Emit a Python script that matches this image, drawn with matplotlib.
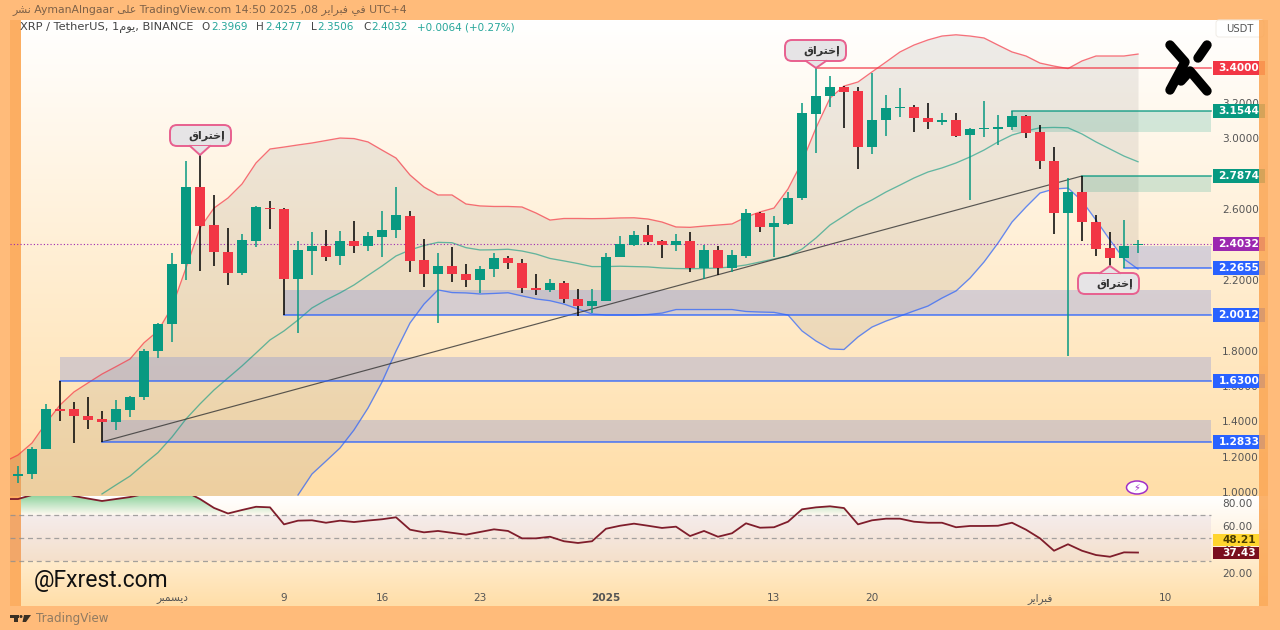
#!/usr/bin/env python3

"""XRP / TetherUS daily chart with Bollinger bands, zones and an RSI pane."""

import numpy as np
import matplotlib

matplotlib.use("Agg")
import matplotlib.pyplot as plt
from matplotlib.colors import LinearSegmentedColormap
from matplotlib.patches import Ellipse, FancyBboxPatch, Polygon, Rectangle
from matplotlib.path import Path

W, H = 1280, 630
FRAME = "#ffbb7a"
STRIP = "#fcae62"
TEAL = "#089981"
RED = "#f23645"
BLUE = "#2962ff"
PURPLE = "#9c27b0"

# Arabic is stored as presentation forms in visual order, matplotlib has no shaping
AR_BREAKOUT = "\ufed5\ufe8d\ufeae\ufe98\ufea7\ufe87"
AR_DAY = "\ufee1\ufeee\ufef3"
AR_DEC = "\ufeae\ufe92\ufee4\ufeb4\ufef3\ufea9"
AR_FEB = "\ufeae\ufef3\ufe8d\ufeae\ufe92\ufed3"
AR_IN = "\ufef2\ufed3"
AR_ON = "\ufef0\ufee0\ufecb"
AR_PUBLISHED = "\ufeae\ufeb8\ufee7"

# days counted from 9 December, first candle is 20 November
FIRST_DAY = -19
opens = [
    1.09, 1.100, 1.243, 1.469, 1.468, 1.43, 1.411, 1.396, 1.464, 1.536, 1.796, 1.949,
    2.29, 2.723, 2.508, 2.36, 2.24, 2.421, 2.608, 2.60, 2.206, 2.365, 2.393, 2.336,
    2.42, 2.393, 2.442, 2.48, 2.563, 2.31, 2.235, 2.278, 2.233, 2.199, 2.26, 2.322,
    2.293, 2.154, 2.142, 2.182, 2.093, 2.054, 2.08, 2.327, 2.397, 2.454, 2.42, 2.395,
    2.42, 2.265, 2.37, 2.269, 2.335, 2.576, 2.499, 2.516, 2.661, 3.14, 3.238, 3.29,
    3.266, 2.953, 3.102, 3.17, 3.178, 3.115, 3.094, 3.104, 3.018, 3.055, 3.055, 3.065,
    3.127, 3.035, 2.874, 2.576, 2.697, 2.525, 2.378, 2.322, 2.3969,
]
highs = [
    1.149, 1.256, 1.498, 1.628, 1.511, 1.539, 1.458, 1.52, 1.545, 1.81, 1.954, 2.35,
    2.87, 2.906, 2.678, 2.493, 2.461, 2.618, 2.646, 2.605, 2.42, 2.469, 2.484, 2.476,
    2.533, 2.469, 2.588, 2.727, 2.59, 2.429, 2.354, 2.384, 2.29, 2.278, 2.35, 2.333,
    2.316, 2.233, 2.205, 2.193, 2.15, 2.146, 2.354, 2.448, 2.478, 2.51, 2.425, 2.457,
    2.469, 2.397, 2.393, 2.369, 2.60, 2.585, 2.561, 2.695, 3.199, 3.40, 3.352, 3.296,
    3.289, 3.368, 3.245, 3.283, 3.19, 3.202, 3.142, 3.142, 3.056, 3.21, 3.134, 3.1544,
    3.132, 3.073, 2.953, 2.778, 2.7874, 2.567, 2.469, 2.538, 2.4277,
]
lows = [
    1.053, 1.075, 1.243, 1.402, 1.275, 1.355, 1.2833, 1.351, 1.426, 1.52, 1.76, 1.847,
    2.199, 2.252, 2.278, 2.171, 2.227, 2.384, 2.486, 2.0012, 1.90, 2.227, 2.306, 2.284,
    2.354, 2.365, 2.331, 2.438, 2.246, 2.158, 1.958, 2.189, 2.158, 2.127, 2.214, 2.261,
    2.127, 2.114, 2.133, 2.067, 1.995, 2.014, 2.08, 2.327, 2.393, 2.397, 2.324, 2.365,
    2.244, 2.203, 2.227, 2.246, 2.324, 2.469, 2.327, 2.51, 2.65, 2.919, 3.18, 3.057,
    2.829, 2.912, 3.014, 3.123, 3.036, 3.053, 3.076, 3.009, 2.652, 3.006, 2.965, 3.046,
    3.002, 2.827, 2.457, 1.769, 2.421, 2.336, 2.2655, 2.265, 2.3506,
]
closes = [
    1.10, 1.243, 1.469, 1.46, 1.428, 1.409, 1.396, 1.468, 1.537, 1.797, 1.95, 2.29,
    2.723, 2.506, 2.355, 2.24, 2.424, 2.61, 2.598, 2.206, 2.369, 2.393, 2.331, 2.42,
    2.393, 2.446, 2.484, 2.565, 2.307, 2.235, 2.278, 2.231, 2.199, 2.26, 2.322, 2.293,
    2.152, 2.144, 2.182, 2.092, 2.054, 2.082, 2.329, 2.401, 2.454, 2.416, 2.395, 2.42,
    2.265, 2.37, 2.265, 2.339, 2.576, 2.499, 2.52, 2.664, 3.142, 3.241, 3.29, 3.264,
    2.953, 3.106, 3.17, 3.179, 3.114, 3.094, 3.104, 3.015, 3.053, 3.06, 3.066, 3.127,
    3.032, 2.874, 2.576, 2.697, 2.525, 2.376, 2.322, 2.391, 2.4032,
]

# Bollinger bands: upper starts on day -20, middle on -13, lower on 1
BB_UPPER_START = -20
bb_upper = [
    1.170, 1.209, 1.277, 1.390, 1.492, 1.566, 1.617, 1.667, 1.709, 1.752, 1.844, 1.911,
    2.046, 2.267, 2.493, 2.606, 2.663, 2.742, 2.861, 2.940, 2.951, 2.963, 2.974, 2.988,
    3.002, 2.999, 2.980, 2.934, 2.889, 2.793, 2.725, 2.680, 2.680, 2.629, 2.618, 2.615,
    2.615, 2.612, 2.578, 2.538, 2.547, 2.547, 2.546, 2.547, 2.550, 2.551, 2.544, 2.527,
    2.499, 2.497, 2.504, 2.510, 2.516, 2.555, 2.584, 2.606, 2.714, 2.866, 3.059, 3.228,
    3.296, 3.319, 3.376, 3.432, 3.489, 3.528, 3.557, 3.579, 3.586, 3.579, 3.568, 3.528,
    3.489, 3.466, 3.426, 3.409, 3.395, 3.438, 3.466, 3.466, 3.466, 3.477,
]
BB_MIDDLE_START = -13
bb_middle = [
    0.989, 1.040, 1.090, 1.158, 1.223, 1.311, 1.413, 1.498, 1.577, 1.645, 1.713, 1.786,
    1.860, 1.911, 1.973, 2.041, 2.086, 2.126, 2.171, 2.225, 2.278, 2.335, 2.369, 2.394,
    2.412, 2.410, 2.382, 2.369, 2.370, 2.373, 2.363, 2.346, 2.321, 2.307, 2.292, 2.275,
    2.275, 2.277, 2.275, 2.273, 2.267, 2.264, 2.263, 2.264, 2.267, 2.273, 2.284, 2.301,
    2.318, 2.335, 2.374, 2.437, 2.510, 2.561, 2.612, 2.652, 2.697, 2.736, 2.776, 2.810,
    2.833, 2.861, 2.895, 2.934, 2.980, 3.019, 3.042, 3.060, 3.062, 3.060, 3.025, 2.980,
    2.940, 2.900, 2.868,
]
BB_LOWER_START = 1
bb_lower = [
    0.983, 1.102, 1.175, 1.249, 1.351, 1.475, 1.622, 1.797, 1.956, 2.063, 2.143, 2.128,
    2.126, 2.120, 2.123, 2.127, 2.109, 2.092, 2.082, 2.063, 2.035, 2.007, 2.001, 2.001,
    2.001, 2.004, 2.012, 2.032, 2.032, 2.032, 2.032, 2.032, 2.021, 2.018, 2.016, 2.001,
    1.911, 1.854, 1.809, 1.806, 1.877, 1.933, 1.967, 1.995, 2.024, 2.052, 2.097, 2.137,
    2.210, 2.301, 2.408, 2.527, 2.612, 2.691, 2.714, 2.719, 2.646, 2.538, 2.425, 2.318,
    2.261,
]

RSI_START = -20
rsi_values = [
    83.7, 83.7, 87.2, 91.5, 89.9, 86.3, 84.1, 82.0, 83.7, 85.4, 88.0, 90.6, 91.5, 89.9,
    83.7, 76.0, 71.2, 74.2, 77.0, 76.5, 61.8, 65.0, 65.3, 63.2, 65.0, 63.8, 65.1, 66.2,
    67.9, 57.2, 54.9, 56.1, 54.5, 52.9, 55.2, 57.5, 56.1, 49.7, 49.7, 51.1, 47.2, 45.7,
    47.2, 58.0, 60.6, 62.4, 60.6, 58.7, 59.8, 51.7, 56.1, 51.1, 54.1, 62.7, 58.9, 59.3,
    64.1, 74.8, 76.5, 77.4, 75.9, 61.8, 65.3, 66.7, 66.7, 64.1, 63.2, 63.2, 59.3, 60.4,
    60.4, 60.6, 63.2, 57.2, 49.7, 39.0, 44.6, 39.0, 35.3, 33.8, 37.6, 37.43,
]

# start day, low, high
blue_zones = [(-16, 1.63, 1.7636), (-13, 1.2833, 1.407), (0, 2.0012, 2.1425), (60, 2.2655, 2.391)]
green_zones = [(52, 3.036, 3.1544), (57, 2.697, 2.7874)]

# start day, price
blue_levels = [(-16, 1.63), (-13, 1.2833), (0, 2.0012), (60, 2.2655)]
teal_levels = [(52, 3.1544), (57, 2.7874)]
red_levels = [(38, 3.40)]
last_price = 2.4032
trend_days = [-13, 57]
trend_prices = [1.2833, 2.7874]

# 2.0, 2.4 and 2.8 are fully hidden behind price tags in the chart
price_ticks = [1.0, 1.2, 1.4, 1.6, 1.8, 2.2, 2.6, 3.0, 3.2]
rsi_ticks = [20, 40, 60, 80]
rsi_levels = [30, 50, 70]
date_ticks = [-8, 0, 7, 14, 23, 35, 42, 54, 63]
date_labels = [AR_DEC, "9", "16", "23", "2025", "13", "20", AR_FEB, "10"]

price_tags = [
    ("3.4000", 3.40, RED),
    ("3.1544", 3.1544, TEAL),
    ("2.7874", 2.7874, TEAL),
    ("2.4032", 2.4032, PURPLE),
    ("2.2655", 2.2655, BLUE),
    ("2.0012", 2.0012, BLUE),
    ("1.6300", 1.63, BLUE),
    ("1.2833", 1.2833, BLUE),
]

# pixel layout of the panes
PANE_LEFT, PANE_RIGHT = 10, 1268
MAIN_TOP, MAIN_BOTTOM = 20, 496
RSI_BOTTOM = 606
DAY_PX = 14.0
DAY0_PX = 284.0
PRICE_PX = 176.8
XLIM = ((PANE_LEFT - DAY0_PX) / DAY_PX, (PANE_RIGHT - DAY0_PX) / DAY_PX)
MAIN_YLIM = (1 + (492 - MAIN_BOTTOM) / PRICE_PX, 1 + (492 - MAIN_TOP) / PRICE_PX)
RSI_YLIM = (80 - (RSI_BOTTOM - 503.3) / 1.157, 80 - (MAIN_BOTTOM - 503.3) / 1.157)
STRIP_RIGHT = (21 - DAY0_PX) / DAY_PX
DRAW_RIGHT = (1211 - DAY0_PX) / DAY_PX
TAG_LEFT = (1213 - DAY0_PX) / DAY_PX
TAG_CENTER = (1239 - DAY0_PX) / DAY_PX


def pane_axes(fig, top, bottom):
    rect = [PANE_LEFT / W, 1 - bottom / H, (PANE_RIGHT - PANE_LEFT) / W, (bottom - top) / H]
    ax = fig.add_axes(rect)
    cmap = LinearSegmentedColormap.from_list("pane", ["#ffffff", "#ffdea8"])
    ax.imshow(np.linspace(0, 1, 256).reshape(-1, 1), cmap=cmap, aspect="auto",
              extent=[0, 1, 0, 1], transform=ax.transAxes, zorder=0)
    # the left strip sits under the marks, first candle and RSI show on it
    ax.axvspan(XLIM[0], STRIP_RIGHT, color=STRIP, lw=0, zorder=0.5)
    for spine in ax.spines.values():
        spine.set_visible(False)
    return ax


def add_tag(ax, value, text, color, height, width=3.71, text_color="white"):
    ax.add_patch(Rectangle((TAG_LEFT, value - height / 2), width, height,
                           fc=color, ec="none", zorder=6))
    ax.text(TAG_CENTER, value, text, color=text_color, fontsize=7.6, fontweight="bold",
            ha="center", va="center", zorder=7)


def plot_main(ax):
    days = np.arange(FIRST_DAY, FIRST_DAY + len(opens))
    o = np.array(opens)
    c = np.array(closes)
    up = c >= o
    wick_colors = [TEAL if u else "black" for u in up]
    body_colors = [TEAL if u else RED for u in up]

    upper_days = np.arange(BB_UPPER_START, BB_UPPER_START + len(bb_upper))
    fill_lower = np.full(len(bb_upper), MAIN_YLIM[0])
    fill_lower[BB_LOWER_START - BB_UPPER_START:] = bb_lower
    ax.fill_between(upper_days, fill_lower, bb_upper, color="#6f6a64", alpha=0.12, lw=0, zorder=1)

    for start, low, high in blue_zones:
        ax.add_patch(Rectangle((start, low), DRAW_RIGHT - start, high - low,
                               fc="#6f82e0", ec="none", alpha=0.28, zorder=1.2))
    for start, low, high in green_zones:
        ax.add_patch(Rectangle((start, low), DRAW_RIGHT - start, high - low,
                               fc=TEAL, ec="none", alpha=0.18, zorder=1.2))

    ax.plot(upper_days, bb_upper, color=RED, alpha=0.7, lw=0.95, zorder=2)
    ax.plot(np.arange(BB_MIDDLE_START, BB_MIDDLE_START + len(bb_middle)), bb_middle,
            color=TEAL, alpha=0.6, lw=0.95, zorder=2)
    ax.plot(np.arange(BB_LOWER_START, BB_LOWER_START + len(bb_lower)), bb_lower,
            color=BLUE, alpha=0.7, lw=0.95, zorder=2)

    ax.plot(trend_days, trend_prices, color="#333333", alpha=0.8, lw=0.85, zorder=2.2)
    for start, price in blue_levels:
        ax.plot([start, DRAW_RIGHT], [price, price], color=BLUE, alpha=0.85, lw=1.1, zorder=2.3)
    for start, price in teal_levels:
        ax.plot([start, DRAW_RIGHT], [price, price], color=TEAL, alpha=0.85, lw=1.1, zorder=2.3)
    for start, price in red_levels:
        ax.plot([start, DRAW_RIGHT], [price, price], color=RED, alpha=0.8, lw=1.1, zorder=2.3)
    ax.plot([XLIM[0], DRAW_RIGHT], [last_price, last_price], color=PURPLE, lw=0.8,
            ls=(0, (1, 2)), zorder=2.4)

    ax.vlines(days, lows, highs, colors=wick_colors, lw=1.1, zorder=3)
    ax.bar(days, c - o, bottom=o, width=0.72, color=body_colors, lw=0, zorder=4)

    for text, price, color in price_tags:
        add_tag(ax, price, text, color, 14 / PRICE_PX)

    ax.set_xlim(XLIM)
    ax.set_ylim(MAIN_YLIM)
    ax.set_xticks([])
    ax.yaxis.tick_right()
    ax.set_yticks(price_ticks)
    ax.set_yticklabels([f"{p:.4f}" for p in price_ticks])
    ax.tick_params(axis="y", length=0, pad=-33, labelsize=7.6, labelcolor="#555555")


def plot_rsi(ax):
    days = np.arange(RSI_START, RSI_START + len(rsi_values))
    rsi = np.array(rsi_values)

    ax.add_patch(Rectangle((XLIM[0], 30), DRAW_RIGHT - XLIM[0], 40,
                           fc="#7e57c2", ec="none", alpha=0.08, zorder=1))
    for level in rsi_levels:
        ax.plot([XLIM[0], DRAW_RIGHT], [level, level], color="#8f8f8f", lw=0.9,
                ls=(0, (4, 3)), alpha=0.8, zorder=1.5)

    # green gradient between the 70 line and the RSI where it is above
    above = ax.fill_between(days, 70, rsi, where=rsi > 70, interpolate=True,
                            facecolor="none", edgecolor="none")
    shade = np.zeros((64, 1, 4))
    shade[..., :3] = matplotlib.colors.to_rgb("#86cf94")
    shade[..., 3] = np.linspace(0, 0.9, 64).reshape(-1, 1)
    img = ax.imshow(shade, origin="lower", aspect="auto",
                    extent=[STRIP_RIGHT, XLIM[1], 70, RSI_YLIM[1]], zorder=1.6)
    img.set_clip_path(Path.make_compound_path(*above.get_paths()), transform=ax.transData)

    ax.plot(days, rsi, color="#7f1d2b", lw=1.3, zorder=3)

    add_tag(ax, 48.21, "48.21", "#ffd52e", 12 / 1.157, width=3.25, text_color="#4a3b00")
    add_tag(ax, rsi_values[-1], "37.43", "#7a0f1e", 12 / 1.157, width=3.25)

    ax.set_xlim(XLIM)
    ax.set_ylim(RSI_YLIM)
    ax.yaxis.tick_right()
    ax.set_yticks(rsi_ticks)
    ax.set_yticklabels([f"{t:.2f}" for t in rsi_ticks])
    ax.tick_params(axis="y", length=0, pad=-33, labelsize=7.6, labelcolor="#555555")
    ax.set_xticks(date_ticks)
    ax.set_xticklabels(date_labels)
    ax.tick_params(axis="x", length=0, pad=-9.5, labelsize=7.6, labelcolor="#555555")
    for label in ax.get_xticklabels():
        if label.get_text() == "2025":
            label.set_fontweight("bold")


def callout(ov, x0, y0, x1, y1, tip_x, tip_y):
    edge = "#e8608f"
    fill = "#e6e4e6"
    ov.add_patch(FancyBboxPatch((x0 + 5, y0 + 5), x1 - x0 - 10, y1 - y0 - 10,
                                boxstyle="round,pad=5,rounding_size=7",
                                fc=fill, ec=edge, lw=1.4, zorder=10))
    base = y1 if tip_y > y1 else y0
    ov.add_patch(Polygon([(tip_x - 10, base), (tip_x + 10, base), (tip_x, tip_y)],
                         fc=fill, ec="none", zorder=10.5))
    ov.plot([tip_x - 10, tip_x, tip_x + 10], [base, tip_y, base], color=edge, lw=1.4, zorder=10.6)
    ov.text((x0 + x1) / 2 + 6, (y0 + y1) / 2, AR_BREAKOUT, fontsize=8, fontweight="bold",
            color="#333333", ha="center", va="center", zorder=11)


def draw_overlay(ov):
    # the right strip tints the ends of the price tags
    ov.add_patch(Rectangle((1259, MAIN_TOP), 9, RSI_BOTTOM - MAIN_TOP,
                           fc="#fba552", ec="none", alpha=0.85, zorder=8))

    ov.text(12, 9.5, f"{AR_PUBLISHED} AymanAlngaar {AR_ON} TradingView.com 14:50 2025 ,08 "
            f"{AR_FEB} {AR_IN} UTC+4", fontsize=7.85, color="#7d6148", ha="left", va="center")

    header = [
        (20, f"XRP / TetherUS, 1{AR_DAY}, BINANCE", "#444444", 8.2),
        (201, "O", "#444444", 7.5),
        (211, "2.3969", "#26a69a", 7.5),
        (256, "H", "#444444", 7.5),
        (265, "2.4277", "#26a69a", 7.5),
        (311, "L", "#444444", 7.5),
        (317.5, "2.3506", "#26a69a", 7.5),
        (363.5, "C", "#444444", 7.5),
        (371, "2.4032", "#26a69a", 7.5),
        (417, "+0.0064 (+0.27%)", "#26a69a", 7.5),
    ]
    for x, text, color, size in header:
        ov.text(x, 27.5, text, fontsize=size, color=color, ha="left", va="center", zorder=9)

    callout(ov, 170, 125, 231, 146, 200, 155)
    callout(ov, 785, 40, 846, 61, 816, 68)
    callout(ov, 1078, 273, 1139, 294, 1110, 266)

    ov.add_patch(FancyBboxPatch((1218, 22), 44, 13, boxstyle="round,pad=2,rounding_size=3",
                                fc="white", ec="#f0ece6", lw=0.7, zorder=7))
    ov.text(1240, 29, "USDT", fontsize=7.2, color="#555555", ha="center", va="center", zorder=7.5)

    # logo strokes
    for xs, ys in [
        ([1170, 1185, 1170], [45, 62, 90]),
        ([1198, 1207], [58, 45]),
        ([1181, 1190, 1207], [81, 71, 91]),
    ]:
        ov.plot(xs, ys, color="black", lw=6.8, solid_capstyle="round",
                solid_joinstyle="round", zorder=6)

    ov.add_patch(Ellipse((1137, 487.5), 21, 13, fc="white", ec="#a030c8", lw=1.1, zorder=6))
    ov.text(1137, 487.5, "\u26a1", fontsize=7, color="#a030c8", ha="center", va="center", zorder=7)

    ov.text(34, 580.5, "@Fxrest.com", family="Roboto", fontsize=16.5, color="#111111",
            ha="left", va="center", zorder=7)

    # TradingView mark under the chart
    mark = "#3a3024"
    ov.add_patch(Rectangle((10, 615), 9, 3, fc=mark, ec="none"))
    ov.add_patch(Rectangle((14, 615), 4, 7, fc=mark, ec="none"))
    ov.add_patch(Ellipse((21, 616.5), 3, 3, fc=mark, ec="none"))
    ov.add_patch(Polygon([(24, 615), (31, 615), (26, 622), (22.5, 622)], fc=mark, ec="none"))
    ov.text(35.5, 618.5, "TradingView", fontsize=8.6, color="#8f7a62", ha="left", va="center")


def main() -> None:
    plt.rcParams["font.family"] = ["DejaVu Sans"]
    fig = plt.figure(figsize=(W / 100, H / 100), dpi=100, facecolor=FRAME)

    ax_main = pane_axes(fig, MAIN_TOP, MAIN_BOTTOM)
    ax_rsi = pane_axes(fig, MAIN_BOTTOM, RSI_BOTTOM)
    plot_main(ax_main)
    plot_rsi(ax_rsi)

    ov = fig.add_axes([0, 0, 1, 1], facecolor="none")
    ov.set_xlim(0, W)
    ov.set_ylim(H, 0)
    ov.axis("off")
    draw_overlay(ov)

    fig.savefig("out.png", dpi=100, facecolor=FRAME)
    plt.close(fig)


if __name__ == "__main__":
    main()
